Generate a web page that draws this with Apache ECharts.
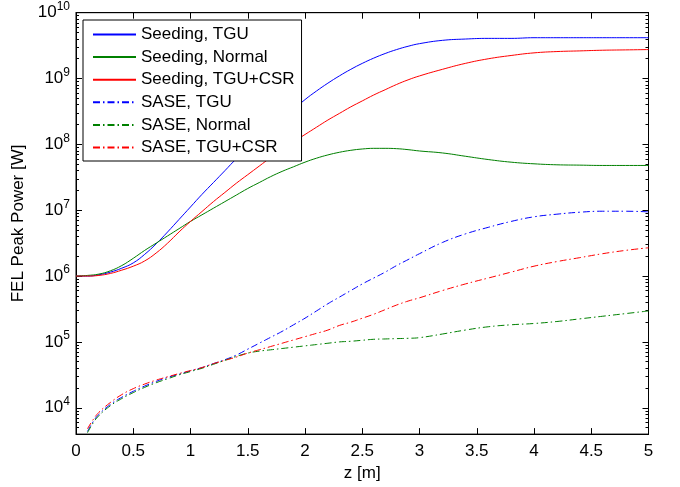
<!DOCTYPE html>
<html>
<head>
<meta charset="utf-8">
<script src="https://cdn.jsdelivr.net/npm/echarts@6/dist/echarts.min.js"></script>
<style>html,body{margin:0;padding:0;background:#fff}#c{width:680px;height:487px}</style>
</head>
<body>
<div id="c"></div>
<script>
// z positions [m]
const zSeed = [0,0.1,0.2,0.3,0.4,0.5,0.6,0.7,0.8,0.9,1.0,1.1,1.2,1.3,1.4,1.5,1.6,1.7,1.8,1.9,2.0,2.1,2.2,2.3,2.4,2.5,2.6,2.7,2.8,2.9,3.0,3.2,3.4,3.6,3.8,4.0,4.2,4.4,4.6,4.8,5.0];
const zSase = [0.1,0.15,0.2,0.3,0.4,0.5,0.6,0.7,0.8,0.9,1.0,1.1,1.2,1.3,1.4,1.5,1.6,1.7,1.8,1.9,2.0,2.1,2.2,2.3,2.4,2.5,2.6,2.7,2.8,2.9,3.0,3.2,3.4,3.6,3.8,4.0,4.2,4.4,4.6,4.8,5.0];

// FEL peak power [W]
const seedTGU = [1.00e6,1.00e6,1.047e6,1.148e6,1.318e6,1.585e6,2.138e6,3.090e6,4.677e6,7.244e6,1.122e7,1.738e7,2.630e7,3.981e7,6.026e7,8.511e7,1.202e8,1.698e8,2.399e8,3.388e8,4.786e8,6.457e8,8.511e8,1.096e9,1.380e9,1.698e9,2.042e9,2.399e9,2.754e9,3.090e9,3.388e9,3.802e9,3.981e9,4.074e9,4.074e9,4.169e9,4.169e9,4.169e9,4.169e9,4.169e9,4.169e9];
const seedNormal = [1.00e6,1.023e6,1.072e6,1.202e6,1.445e6,1.862e6,2.455e6,3.162e6,4.074e6,5.248e6,6.761e6,8.511e6,1.072e7,1.349e7,1.698e7,2.138e7,2.630e7,3.236e7,3.890e7,4.571e7,5.370e7,6.166e7,6.918e7,7.586e7,8.128e7,8.511e7,8.710e7,8.710e7,8.610e7,8.318e7,7.943e7,7.413e7,6.607e7,5.888e7,5.370e7,5.070e7,4.898e7,4.842e7,4.786e7,4.786e7,4.786e7];
const seedCSR = [1.00e6,1.00e6,1.023e6,1.096e6,1.230e6,1.413e6,1.698e6,2.239e6,3.162e6,4.677e6,6.761e6,9.550e6,1.349e7,1.862e7,2.570e7,3.467e7,4.677e7,6.310e7,8.318e7,1.096e8,1.413e8,1.820e8,2.344e8,2.951e8,3.715e8,4.571e8,5.623e8,6.761e8,8.128e8,9.550e8,1.096e9,1.380e9,1.698e9,1.995e9,2.239e9,2.455e9,2.570e9,2.630e9,2.692e9,2.723e9,2.754e9];
const saseTGU = [4.365e3,6.166e3,7.943e3,1.122e4,1.445e4,1.778e4,2.138e4,2.512e4,2.884e4,3.236e4,3.631e4,4.074e4,4.677e4,5.370e4,6.310e4,7.762e4,9.550e4,1.175e5,1.445e5,1.820e5,2.291e5,2.951e5,3.802e5,4.786e5,6.026e5,7.586e5,9.333e5,1.148e6,1.445e6,1.778e6,2.188e6,3.236e6,4.365e6,5.495e6,6.761e6,7.943e6,8.710e6,9.333e6,9.66e6,9.66e6,9.44e6];
const saseNormal = [4.169e3,5.888e3,7.586e3,1.072e4,1.380e4,1.698e4,2.042e4,2.399e4,2.754e4,3.162e4,3.548e4,3.981e4,4.571e4,5.248e4,6.026e4,6.761e4,7.244e4,7.586e4,7.943e4,8.318e4,8.710e4,9.120e4,9.550e4,1.000e5,1.023e5,1.059e5,1.096e5,1.109e5,1.122e5,1.135e5,1.161e5,1.318e5,1.514e5,1.698e5,1.820e5,1.905e5,2.042e5,2.239e5,2.455e5,2.692e5,2.951e5];
const saseCSR = [4.786e3,6.607e3,8.511e3,1.202e4,1.585e4,1.950e4,2.291e4,2.630e4,2.951e4,3.311e4,3.673e4,4.074e4,4.677e4,5.248e4,5.888e4,6.761e4,7.586e4,8.511e4,9.550e4,1.072e5,1.202e5,1.349e5,1.514e5,1.778e5,1.995e5,2.291e5,2.630e5,3.090e5,3.631e5,4.169e5,4.677e5,6.026e5,7.586e5,9.333e5,1.148e6,1.413e6,1.660e6,1.905e6,2.188e6,2.455e6,2.692e6];

const names = ['Seeding, TGU','Seeding, Normal','Seeding, TGU+CSR','SASE, TGU','SASE, Normal','SASE, TGU+CSR'];
const majorY = [1e4,1e5,1e6,1e7,1e8,1e9,1e10];
const minorY = [];
for (let e = 3; e < 10; e++) for (let m = 2; m <= 9; m++) { const v = m * Math.pow(10, e); if (v > 3981) minorY.push(v); }
const xTicks = [0,0.5,1,1.5,2,2.5,3,3.5,4,4.5,5];

const FONT = 'Liberation Sans, Arial, Helvetica, sans-serif';
const zip = (xs, ys) => xs.map((x, i) => [x, ys[i]]);
const DASHDOT = [7, 3, 1.5, 3];

function mk(name, xs, ys, color, dash) {
  return {
    name, type: 'line', data: zip(xs, ys), symbol: 'none', showSymbol: false,
    smooth: 0.45, xAxisIndex: 0, yAxisIndex: 0,
    lineStyle: { color, width: 1, type: dash ? DASHDOT : 'solid' },
    itemStyle: { color }, emphasis: { disabled: true }
  };
}

const yBase = {
  type: 'log', min: 3981, max: 1e10, logBase: 10,
  splitLine: { show: false }, axisLine: { show: false }
};

const chart = echarts.init(document.getElementById('c'), null, { renderer: 'canvas' });
chart.setOption({
  animation: false,
  backgroundColor: '#fff',
  grid: { left: 76, right: 31.5, top: 12.7, bottom: 49.7, show: true, borderColor: '#000', borderWidth: 1, backgroundColor: 'transparent' },
  legend: {
    orient: 'vertical', left: 83, top: 20,
    itemWidth: 43, itemHeight: 14, itemGap: 5.6,
    padding: [6, 7, 5, 9],
    backgroundColor: '#fff', borderColor: '#000', borderWidth: 1,
    itemStyle: { opacity: 0 },
    textStyle: { fontFamily: FONT, fontSize: 17, color: '#000', lineHeight: 16 },
    data: names, selectedMode: false
  },
  xAxis: [
    { type: 'value', min: 0, max: 5, interval: 0.5, position: 'bottom',
      name: 'z [m]', nameLocation: 'middle', nameGap: 26,
      nameTextStyle: { fontFamily: FONT, fontSize: 17, color: '#000' },
      axisLine: { show: true, onZero: false, lineStyle: { color: '#000' } },
      axisTick: { inside: true, length: 6, lineStyle: { color: '#000' } },
      axisLabel: { margin: 9, fontFamily: FONT, fontSize: 17, color: '#000',
        customValues: xTicks, formatter: v => String(v) },
      splitLine: { show: false } },
    { type: 'value', min: 0, max: 5, interval: 0.5, position: 'top',
      axisLine: { show: true, onZero: false, lineStyle: { color: '#000' } },
      axisTick: { inside: true, length: 6, lineStyle: { color: '#000' } },
      axisLabel: { show: false }, splitLine: { show: false } }
  ],
  yAxis: [
    Object.assign({}, yBase, { position: 'left',
      name: 'FEL Peak Power [W]', nameLocation: 'middle', nameGap: 37,
      nameTextStyle: { fontFamily: FONT, fontSize: 17, color: '#000' },
      axisLine: { show: true, lineStyle: { color: '#000' } },
      axisTick: { inside: true, length: 6, customValues: majorY, lineStyle: { color: '#000' } },
      axisLabel: { margin: 6, customValues: majorY,
        formatter: v => '{b|10}{e|' + Math.round(Math.log10(v)) + '}',
        rich: {
          b: { fontFamily: FONT, fontSize: 17, color: '#000', lineHeight: 24 },
          e: { fontFamily: FONT, fontSize: 12, color: '#000', lineHeight: 12, verticalAlign: 'top' }
        } } }),
    Object.assign({}, yBase, { position: 'left',
      axisTick: { inside: true, length: 3, customValues: minorY, lineStyle: { color: '#000' } },
      axisLabel: { show: false } }),
    Object.assign({}, yBase, { position: 'right',
      axisLine: { show: true, lineStyle: { color: '#000' } },
      axisTick: { inside: true, length: 6, customValues: majorY, lineStyle: { color: '#000' } },
      axisLabel: { show: false } }),
    Object.assign({}, yBase, { position: 'right',
      axisTick: { inside: true, length: 3, customValues: minorY, lineStyle: { color: '#000' } },
      axisLabel: { show: false } })
  ],
  series: [
    mk(names[0], zSeed, seedTGU, '#0000ff', false),
    mk(names[1], zSeed, seedNormal, '#008000', false),
    mk(names[2], zSeed, seedCSR, '#ff0000', false),
    mk(names[3], zSase, saseTGU, '#0000ff', true),
    mk(names[4], zSase, saseNormal, '#008000', true),
    mk(names[5], zSase, saseCSR, '#ff0000', true)
  ]
});
</script>
</body>
</html>
